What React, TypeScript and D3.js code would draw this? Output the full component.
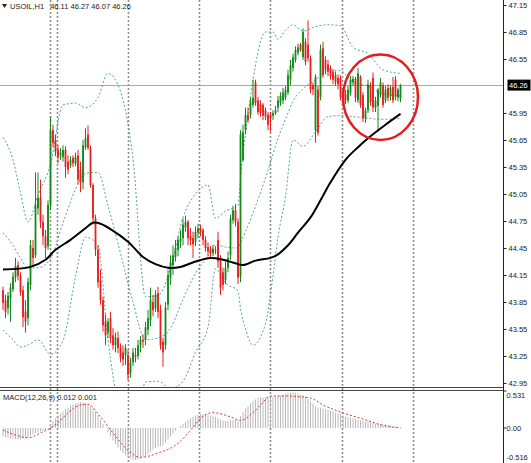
import React from "react";
import * as d3 from "d3";

// ---------- Candles (USOIL H1) ----------
const candleOpen = [
  43.98, 43.87, 43.78, 43.89, 43.99, 44.12, 44.26, 44.14, 43.98, 43.74,
  43.67, 44.04, 44.45, 44.37, 44.89, 45.01, 44.74, 44.58, 44.47, 44.93,
  45.76, 45.65, 45.54, 45.48, 45.46, 45.54, 45.41, 45.37, 45.45, 45.39,
  45.48, 45.32, 45.18, 45.57, 45.71, 45.56, 45.15, 44.78, 44.43, 44.09,
  43.87, 43.63, 43.51, 43.67, 43.48, 43.37, 43.45, 43.35, 43.29, 43.26,
  43.26, 43.06, 43.18, 43.26, 43.25, 43.37, 43.43, 43.43, 43.54, 43.65,
  43.85, 43.78, 43.95, 43.76, 43.41, 43.37, 43.82, 44.12, 44.26, 44.35,
  44.43, 44.52, 44.56, 44.68, 44.74, 44.58, 44.56, 44.52, 44.62, 44.67,
  44.65, 44.54, 44.46, 44.43, 44.39, 44.43, 44.54, 44.34, 44.18, 44.09,
  44.23, 44.37, 44.76, 44.87, 44.74, 44.13, 45.43, 45.76, 45.93, 45.93,
  46.04, 46.29, 46.09, 46.05, 46.04, 45.98, 45.93, 45.93, 45.92, 45.95,
  46.01, 46.06, 46.09, 46.12, 46.18, 46.32, 46.45, 46.54, 46.62, 46.71,
  46.57, 46.74, 46.71, 46.56, 46.26, 45.76, 46.21, 46.13, 46.67, 46.54,
  46.49, 46.45, 46.41, 46.37, 46.34, 46.34, 46.18, 46.16, 46.09, 46.17,
  46.29, 46.33, 46.09, 46.35, 46.15, 45.89, 45.98, 46.26, 46.34, 46.01,
  46.03, 46.15, 46.26, 46.09, 46.23, 46.14, 46.24, 46.32, 46.12, 46.11,
];
const candleHigh = [
  44.02, 43.93, 43.96, 44.06, 44.18, 44.34, 44.30, 44.18, 44.03, 43.87,
  44.12, 44.54, 44.54, 45.29, 45.29, 45.21, 44.82, 44.65, 44.98, 45.91,
  45.82, 45.71, 45.59, 45.56, 45.59, 45.58, 45.48, 45.47, 45.48, 45.51,
  45.54, 45.41, 45.65, 45.78, 45.81, 45.59, 45.17, 44.82, 44.48, 44.21,
  43.91, 43.71, 43.67, 43.74, 43.56, 43.51, 43.52, 43.39, 43.37, 43.38,
  43.32, 43.23, 43.34, 43.34, 43.43, 43.47, 43.49, 43.63, 43.76, 44.01,
  43.93, 43.98, 44.02, 43.82, 43.45, 43.85, 44.21, 44.37, 44.48, 44.54,
  44.58, 44.65, 44.78, 44.81, 44.76, 44.67, 44.63, 44.69, 44.72, 44.71,
  44.67, 44.58, 44.51, 44.47, 44.48, 44.47, 44.63, 44.37, 44.23, 44.30,
  44.41, 44.82, 44.92, 44.94, 44.78, 45.76, 45.82, 46.01, 46.01, 46.12,
  46.32, 46.32, 46.13, 46.09, 46.06, 46.01, 45.96, 45.96, 45.98, 46.03,
  46.14, 46.18, 46.23, 46.25, 46.43, 46.54, 46.61, 46.69, 46.72, 46.73,
  46.89, 46.78, 46.98, 46.59, 46.29, 46.38, 46.25, 46.71, 46.74, 46.58,
  46.54, 46.48, 46.44, 46.41, 46.38, 46.37, 46.23, 46.21, 46.25, 46.36,
  46.36, 46.35, 46.45, 46.37, 46.18, 46.01, 46.32, 46.29, 46.40, 46.13,
  46.23, 46.34, 46.29, 46.25, 46.27, 46.26, 46.35, 46.36, 46.23, 46.27,
];
const candleLow = [
  43.76, 43.67, 43.71, 43.63, 43.96, 44.07, 44.09, 43.92, 43.57, 43.51,
  43.59, 43.98, 44.25, 44.34, 44.82, 44.67, 44.48, 44.34, 44.43, 44.87,
  45.57, 45.47, 45.39, 45.43, 45.41, 45.23, 45.27, 45.34, 45.35, 45.36,
  45.16, 45.07, 45.10, 45.54, 45.54, 45.12, 44.71, 44.36, 44.01, 43.82,
  43.52, 43.37, 43.45, 43.39, 43.32, 43.29, 43.28, 43.18, 43.14, 43.15,
  42.98, 43.01, 43.14, 43.18, 43.21, 43.29, 43.34, 43.37, 43.48, 43.58,
  43.69, 43.74, 43.67, 43.32, 43.13, 43.32, 43.76, 44.04, 44.15, 44.30,
  44.36, 44.45, 44.48, 44.63, 44.48, 44.48, 44.34, 44.47, 44.56, 44.58,
  44.48, 44.41, 44.36, 44.34, 44.36, 44.38, 44.23, 43.93, 43.98, 44.05,
  44.18, 44.32, 44.72, 44.69, 44.05, 44.07, 45.41, 45.71, 45.84, 45.89,
  46.01, 46.03, 45.93, 45.91, 45.87, 45.87, 45.76, 45.74, 45.87, 45.93,
  45.96, 46.03, 46.05, 46.09, 46.15, 46.26, 46.41, 46.51, 46.59, 46.63,
  46.54, 46.48, 46.52, 46.17, 46.15, 45.62, 45.70, 46.09, 46.34, 46.38,
  46.36, 46.32, 46.27, 46.25, 46.21, 46.09, 46.05, 46.05, 46.06, 46.14,
  46.25, 46.07, 46.06, 46.01, 45.85, 45.84, 45.95, 46.03, 45.96, 45.96,
  45.74, 46.12, 46.01, 46.06, 46.08, 46.09, 46.06, 46.09, 46.08, 46.07,
];
const candleClose = [
  43.84, 43.74, 43.92, 44.01, 44.13, 44.25, 44.14, 43.96, 43.68, 43.63,
  44.07, 44.48, 44.34, 44.93, 45.01, 44.74, 44.58, 44.45, 44.93, 45.76,
  45.62, 45.52, 45.46, 45.51, 45.54, 45.35, 45.32, 45.43, 45.39, 45.46,
  45.21, 45.18, 45.59, 45.67, 45.56, 45.15, 44.78, 44.43, 44.07, 43.87,
  43.59, 43.48, 43.63, 43.45, 43.37, 43.46, 43.34, 43.23, 43.21, 43.34,
  43.04, 43.18, 43.29, 43.24, 43.37, 43.43, 43.41, 43.57, 43.67, 43.87,
  43.76, 43.93, 43.74, 43.37, 43.29, 43.79, 44.15, 44.29, 44.37, 44.45,
  44.54, 44.56, 44.71, 44.74, 44.56, 44.54, 44.49, 44.63, 44.67, 44.63,
  44.54, 44.45, 44.41, 44.39, 44.44, 44.42, 44.30, 44.01, 44.04, 44.23,
  44.34, 44.78, 44.87, 44.74, 44.12, 45.71, 45.74, 45.93, 45.87, 46.07,
  46.12, 46.06, 45.96, 45.95, 45.92, 45.91, 45.82, 45.89, 45.95, 45.98,
  46.09, 46.14, 46.18, 46.21, 46.37, 46.48, 46.57, 46.65, 46.68, 46.65,
  46.85, 46.52, 46.56, 46.21, 46.21, 46.35, 45.73, 46.65, 46.37, 46.43,
  46.41, 46.36, 46.32, 46.29, 46.27, 46.13, 46.09, 46.09, 46.21, 46.32,
  46.33, 46.12, 46.39, 46.04, 45.89, 45.98, 46.27, 46.07, 46.01, 46.09,
  46.21, 46.29, 46.04, 46.21, 46.12, 46.23, 46.09, 46.13, 46.21, 46.26,
];

// ---------- Moving average (black), read at bar indices ----------
const maIdx = [0, 11, 17, 21, 27, 33, 36, 39, 43, 50, 56, 61, 66, 71, 77, 83, 88, 93, 96, 101, 107, 110, 114, 118, 123, 127, 131, 137, 142, 146, 153, 159];
const maVal = [44.21, 44.24, 44.32, 44.43, 44.54, 44.67, 44.73, 44.72, 44.66, 44.52, 44.35, 44.27, 44.23, 44.24, 44.30, 44.34, 44.32, 44.28, 44.26, 44.31, 44.34, 44.38, 44.48, 44.62, 44.79, 44.98, 45.18, 45.43, 45.57, 45.67, 45.82, 45.94];

// ---------- Bollinger bands (dotted), read at bar indices ----------
const bbIdx = [0, 4, 7, 10, 14, 19, 24, 29, 33, 38, 42, 47, 52, 57, 62, 67, 72, 77, 82, 85, 89, 94, 95, 97, 100, 105, 108, 110, 113, 116, 120, 125, 130, 135, 140, 146, 152, 159];
const bbUpper = [45.68, 45.43, 45.06, 44.74, 45.04, 45.38, 46.04, 46.06, 46.01, 46.12, 46.39, 46.19, 45.44, 43.91, 43.92, 44.22, 44.79, 45.05, 45.15, 44.78, 44.86, 44.92, 45.23, 45.72, 46.32, 46.85, 46.85, 46.77, 46.87, 46.93, 46.86, 46.91, 46.93, 46.92, 46.68, 46.61, 46.43, 46.39];
const bbMiddle = [44.62, 44.48, 44.34, 44.23, 44.23, 44.33, 44.73, 45.10, 45.28, 45.29, 44.92, 44.39, 43.85, 43.43, 43.45, 43.56, 43.88, 44.17, 44.36, 44.49, 44.46, 44.45, 44.51, 44.63, 44.84, 45.23, 45.49, 45.67, 45.88, 46.08, 46.22, 46.32, 46.42, 46.42, 46.29, 46.25, 46.16, 46.14];
const bbLower = [43.54, 43.43, 43.35, 43.37, 43.43, 43.27, 43.42, 44.13, 44.57, 44.48, 43.43, 42.59, 42.27, 42.96, 42.97, 42.89, 42.97, 43.29, 43.57, 44.22, 44.06, 43.97, 43.78, 43.55, 43.37, 43.61, 44.14, 44.57, 45.02, 45.65, 45.58, 45.74, 45.91, 45.92, 45.91, 45.89, 45.88, 45.89];

// ---------- MACD(12,26,9) ----------
const macdHist = [
  -0.12, -0.13, -0.14, -0.15, -0.15, -0.16, -0.16, -0.16, -0.15, -0.14,
  -0.13, -0.11, -0.09, -0.07, -0.06, -0.05, -0.04, -0.03, -0.01, 0.05,
  0.10, 0.14, 0.18, 0.21, 0.24, 0.27, 0.29, 0.32, 0.34, 0.35,
  0.36, 0.37, 0.37, 0.36, 0.34, 0.32, 0.28, 0.24, 0.18, 0.12,
  0.06, 0.0, -0.06, -0.12, -0.18, -0.23, -0.28, -0.32, -0.36, -0.39,
  -0.42, -0.44, -0.45, -0.46, -0.45, -0.44, -0.42, -0.40, -0.37, -0.34,
  -0.31, -0.29, -0.27, -0.26, -0.25, -0.21, -0.16, -0.12, -0.08, -0.04,
  0.0, 0.03, 0.06, 0.09, 0.12, 0.14, 0.16, 0.18, 0.19, 0.20,
  0.20, 0.20, 0.19, 0.18, 0.17, 0.16, 0.14, 0.12, 0.11, 0.10,
  0.10, 0.11, 0.12, 0.12, 0.11, 0.17, 0.23, 0.28, 0.32, 0.36,
  0.39, 0.41, 0.43, 0.44, 0.44, 0.44, 0.44, 0.45, 0.45, 0.45,
  0.46, 0.47, 0.48, 0.49, 0.50, 0.51, 0.51, 0.50, 0.49, 0.48,
  0.47, 0.45, 0.42, 0.38, 0.35, 0.31, 0.29, 0.29, 0.28, 0.27,
  0.26, 0.25, 0.24, 0.22, 0.21, 0.20, 0.18, 0.17, 0.16, 0.15,
  0.14, 0.13, 0.12, 0.11, 0.10, 0.09, 0.09, 0.08, 0.07, 0.06,
  0.06, 0.06, 0.05, 0.05, 0.04, 0.03, 0.02, 0.02, 0.01, 0.012,
];
const sigIdx = [0, 5, 10, 15, 19, 23, 26, 31, 34, 39, 44, 50, 55, 62, 70, 76, 79, 84, 91, 95, 100, 103, 107, 112, 123, 128, 135, 143, 152, 159];
const sigVal = [-0.03, -0.10, -0.14, -0.07, 0.0, 0.11, 0.22, 0.33, 0.34, 0.16, -0.07, -0.32, -0.42, -0.36, -0.22, 0.01, 0.14, 0.22, 0.16, 0.11, 0.22, 0.33, 0.46, 0.46, 0.43, 0.33, 0.23, 0.14, 0.04, 0.001];

// ---------- Axes / labels ----------
const priceTicks = [47.15, 46.85, 46.55, 45.95, 45.65, 45.35, 45.05, 44.75, 44.45, 44.15, 43.85, 43.55, 43.25, 42.95];
const macdTicks = [0.531, 0.0, -0.516];
const macdTickLabels = ["0.531", "0.00", "-0.516"];
const gridIdx = [18.8, 21.6, 50, 78.4, 106.8, 135.6, 164];
const lastPrice = 46.26;
const symbolTitle = "USOIL,H1";
const headerValues = "46.11 46.27 46.07 46.26";
const macdTitle = "MACD(12,26,9) 0.012 0.001";
// highlighted zone (bar index range and price range of the red ring)
const ringIdx = [136, 166];
const ringPrice = [45.65, 46.6];

const FONT = "'Liberation Sans', Arial, sans-serif";
const BULL = "#12891a";
const BEAR = "#e6201f";

export default function App() {
  const n = candleClose.length;
  const x = d3.scaleLinear().domain([0, n - 1]).range([3, 400.5]);
  const y = d3.scaleLinear().domain([42.95, 47.15]).range([383, 5]);
  const ym = d3.scaleLinear().domain([-0.516, 0.531]).range([464, 391]);
  const AX = 503.5;

  const smooth = (idx: number[], vals: number[], sy: d3.ScaleLinear<number, number>) =>
    d3
      .line<number>()
      .x((_, i) => x(idx[i]))
      .y((v) => sy(v))
      .curve(d3.curveMonotoneX)(vals) || "";

  const maPath =
    d3
      .line<number>()
      .x((_, i) => x(maIdx[i]))
      .y((v) => y(v))
      .curve(d3.curveCatmullRom.alpha(0.5))(maVal) || "";

  const cx = (x(ringIdx[0]) + x(ringIdx[1])) / 2;
  const cy = (y(ringPrice[0]) + y(ringPrice[1])) / 2;
  const rx = (x(ringIdx[1]) - x(ringIdx[0])) / 2;
  const ry = (y(ringPrice[0]) - y(ringPrice[1])) / 2;

  return (
    <svg
      width={531}
      height={463}
      style={{ position: "fixed", left: 0, top: 0, background: "#fff" }}
      fontFamily={FONT}
    >
      <defs>
        <clipPath id="mainClip">
          <rect x={0} y={0} width={AX} height={387} />
        </clipPath>
        <clipPath id="subClip">
          <rect x={0} y={391} width={AX} height={72} />
        </clipPath>
      </defs>
      <rect x={0} y={0} width={531} height={463} fill="#fff" />

      {/* vertical dotted grid */}
      {gridIdx.map((g, i) => (
        <line
          key={"g" + i}
          x1={Math.round(x(g)) + 0.5}
          x2={Math.round(x(g)) + 0.5}
          y1={0}
          y2={463}
          stroke="#8f8f8f"
          strokeWidth={1.6}
          strokeDasharray="2,2"
        />
      ))}

      {/* current price line */}
      <line x1={0} x2={AX} y1={Math.round(y(lastPrice)) + 0.5} y2={Math.round(y(lastPrice)) + 0.5} stroke="#a8a8a8" strokeWidth={1} />

      <g clipPath="url(#mainClip)">
        {/* Bollinger bands */}
        {[bbUpper, bbMiddle, bbLower].map((b, k) => (
          <path
            key={"bb" + k}
            d={smooth(bbIdx, b, y)}
            fill="none"
            stroke="#4fa894"
            strokeWidth={1}
            strokeDasharray="2,2"
          />
        ))}

        {/* candles */}
        {candleClose.map((c, i) => {
          const o = candleOpen[i];
          const up = c >= o;
          const col = up ? BULL : BEAR;
          const xi = x(i);
          const top = y(Math.max(o, c));
          const bot = y(Math.min(o, c));
          return (
            <g key={"c" + i}>
              <line x1={xi} x2={xi} y1={y(candleHigh[i])} y2={y(candleLow[i])} stroke={col} strokeWidth={1} />
              <rect x={xi - 0.9} y={top} width={1.8} height={Math.max(1, bot - top)} fill={col} />
            </g>
          );
        })}

        {/* moving average */}
        <path d={maPath} fill="none" stroke="#000" strokeWidth={2} />
      </g>

      {/* red ring highlight */}
      <ellipse cx={cx} cy={cy} rx={rx} ry={ry} fill="none" stroke="#e41e1e" strokeWidth={2.5} />

      {/* panel separator */}
      <line x1={0} x2={AX} y1={387.5} y2={387.5} stroke="#444" strokeWidth={1.2} />
      <line x1={0} x2={AX} y1={390.5} y2={390.5} stroke="#444" strokeWidth={1.2} />

      {/* MACD panel */}
      <g clipPath="url(#subClip)">
        {macdHist.map((v, i) => (
          <line
            key={"h" + i}
            x1={x(i)}
            x2={x(i)}
            y1={ym(0)}
            y2={ym(v)}
            stroke="#b9b9b9"
            strokeWidth={1}
          />
        ))}
        <path d={smooth(sigIdx, sigVal, ym)} fill="none" stroke="#d23a3a" strokeWidth={1} strokeDasharray="2,2" />
      </g>

      {/* right axis */}
      <line x1={AX} x2={AX} y1={0} y2={463} stroke="#222" strokeWidth={1} />
      {priceTicks.map((t) => (
        <g key={"t" + t}>
          <line x1={AX} x2={AX + 3} y1={Math.round(y(t)) + 0.5} y2={Math.round(y(t)) + 0.5} stroke="#222" />
          <text x={AX + 5} y={y(t)} dy="0.35em" fontSize={7.5} fill="#222">
            {t.toFixed(2)}
          </text>
        </g>
      ))}
      <rect x={AX + 4} y={y(lastPrice) - 5.5} width={23} height={11} fill="#000" />
      <text x={AX + 5.5} y={y(lastPrice)} dy="0.35em" fontSize={7.5} fill="#fff">
        {lastPrice.toFixed(2)}
      </text>
      {macdTicks.map((t, i) => {
        const ty = Math.min(Math.max(ym(t), 395), 457.5);
        return (
          <g key={"m" + i}>
            <line x1={AX} x2={AX + 3} y1={ym(t)} y2={ym(t)} stroke="#222" />
            <text x={AX + 3} y={ty} dy="0.35em" fontSize={7.5} fill="#222">
              {macdTickLabels[i]}
            </text>
          </g>
        );
      })}

      {/* titles */}
      <path d="M2,4 L7,4 L4.5,8 Z" fill="#222" />
      <text x={10} y={9} fontSize={7.5} fill="#222">
        {symbolTitle}
        <tspan dx={6}>{headerValues}</tspan>
      </text>
      <text x={3} y={400} fontSize={7.5} fill="#222">
        {macdTitle}
      </text>
    </svg>
  );
}
